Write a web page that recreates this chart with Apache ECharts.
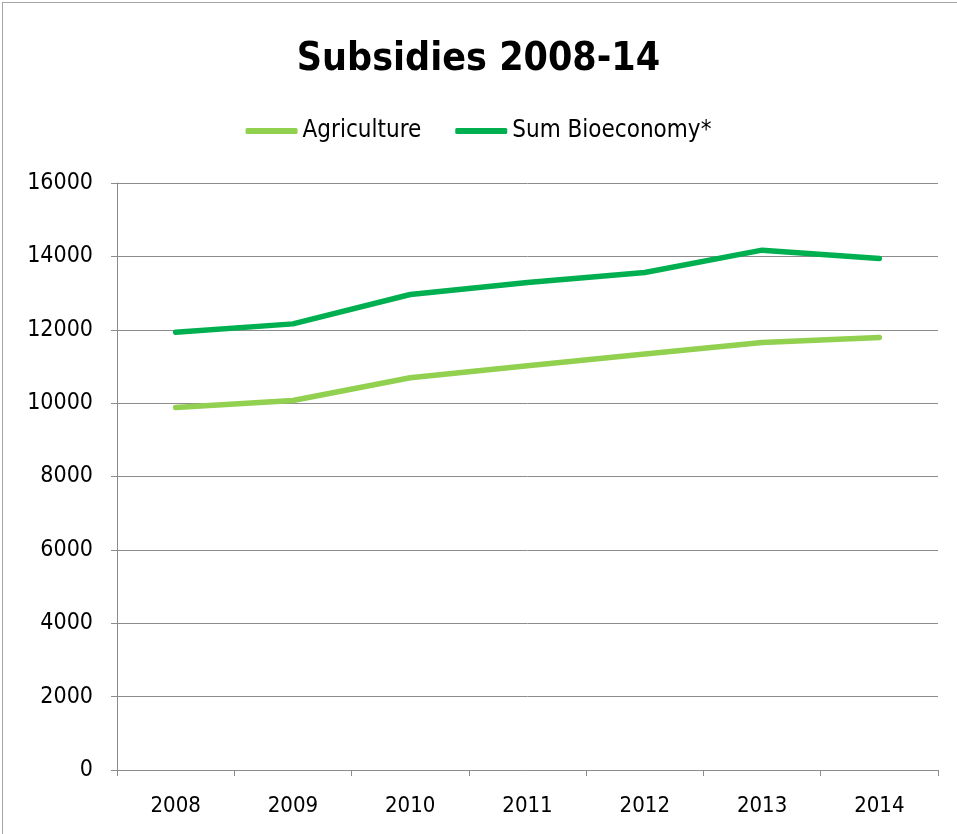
<!DOCTYPE html>
<html>
<head>
<meta charset="utf-8">
<style>
  html, body { margin: 0; padding: 0; background: #fff; }
  #frame { position: absolute; left: 2px; top: 2px; width: 960px; height: 840px; border-left: 1px solid #a6a6a6; border-top: 1px solid #a6a6a6; }
  #chart { position: absolute; left: 0; top: 0; width: 957px; height: 834px; }
</style>
<script src="https://cdn.jsdelivr.net/npm/echarts@6/dist/echarts.min.js"></script>
</head>
<body>
<div id="frame"></div>
<div id="chart"></div>
<script>
// Subsidies by year
const years = ['2008', '2009', '2010', '2011', '2012', '2013', '2014'];
const agriculture = [9880, 10070, 10690, 11020, 11340, 11650, 11790];
const sumBioeconomy = [11930, 12160, 12960, 13290, 13560, 14170, 13940];
const yTicks = { min: 0, max: 16000, interval: 2000 };

const font = '"DejaVu Sans Condensed", "Liberation Sans Narrow", "Open Sans", sans-serif';
const gridGrey = '#8c8c8c';

const chart = echarts.init(document.getElementById('chart'), null, { renderer: 'canvas' });
chart.setOption({
  animation: false,
  backgroundColor: 'transparent',
  title: {
    text: 'Subsidies 2008-14',
    left: 'center',
    top: 35,
    textStyle: { fontFamily: font, fontSize: 39, fontWeight: 'bold', color: '#000' }
  },
  legend: {
    top: 114,
    left: 'center',
    itemWidth: 52,
    itemHeight: 6,
    itemGap: 34,
    icon: 'roundRect',
    textStyle: { fontFamily: font, fontSize: 24, color: '#000' },
    data: ['Agriculture', 'Sum Bioeconomy*']
  },
  grid: { left: 117, right: 19, top: 183, bottom: 64, containLabel: false },
  xAxis: {
    type: 'category',
    data: years,
    boundaryGap: true,
    axisLine: { show: true, lineStyle: { color: gridGrey, width: 1 } },
    axisTick: { show: true, length: 6, inside: false, lineStyle: { color: gridGrey } },
    axisLabel: { fontFamily: font, fontSize: 22, color: '#000', margin: 25 },
    splitLine: { show: false }
  },
  yAxis: {
    type: 'value',
    min: yTicks.min,
    max: yTicks.max,
    interval: yTicks.interval,
    axisLine: { show: true, lineStyle: { color: gridGrey, width: 1 } },
    axisTick: { show: true, length: 6, lineStyle: { color: gridGrey } },
    axisLabel: {
      fontFamily: font, fontSize: 23, color: '#000', margin: 24,
      formatter: (v) => String(v)
    },
    splitLine: { show: true, lineStyle: { color: gridGrey, width: 1 } }
  },
  series: [
    {
      name: 'Agriculture',
      type: 'line',
      data: agriculture,
      symbol: 'none',
      color: '#92D050',
      lineStyle: { color: '#92D050', width: 5.5, cap: 'round', join: 'round' },
      itemStyle: { color: '#92D050' }
    },
    {
      name: 'Sum Bioeconomy*',
      type: 'line',
      data: sumBioeconomy,
      symbol: 'none',
      color: '#00B050',
      lineStyle: { color: '#00B050', width: 5.5, cap: 'round', join: 'round' },
      itemStyle: { color: '#00B050' }
    }
  ]
});
</script>
</body>
</html>
